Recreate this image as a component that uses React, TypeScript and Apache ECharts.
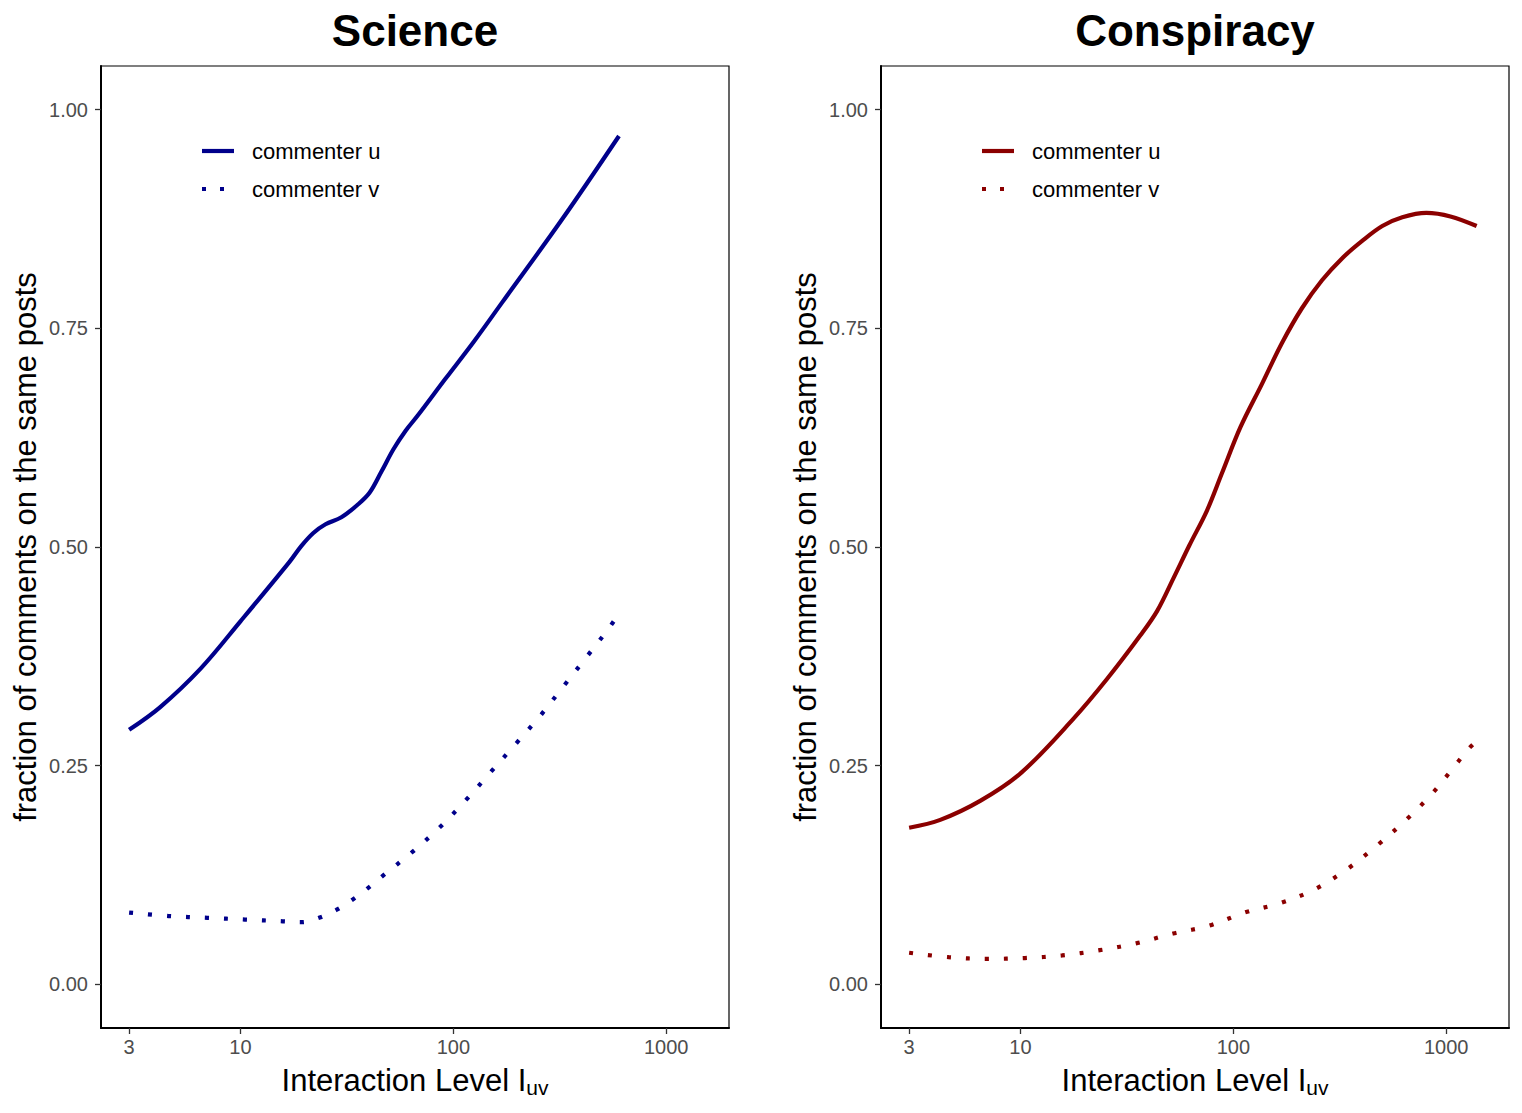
import React, { useEffect, useRef } from "react";
import * as echarts from "echarts";

// ---- Data (Interaction level I_uv, fraction of comments) ----
const xTickValues = [3, 10, 100, 1000];
const yTickValues = [0, 0.25, 0.5, 0.75, 1.0];

const scienceU_x = [3, 4.2, 6.5, 10, 17, 19.3, 22, 25.1, 29.8, 35.4, 40.4, 45.9, 52.4, 59.7, 67.9, 91.6, 125, 170, 325, 600];
const scienceU_y = [0.291, 0.317, 0.361, 0.415, 0.483, 0.501, 0.516, 0.526, 0.534, 0.548, 0.562, 0.586, 0.612, 0.633, 0.65, 0.692, 0.735, 0.78, 0.875, 0.97];

const scienceV_x = [3, 4.6, 7, 10.5, 15.8, 19.3, 23.4, 28.2, 33.7, 39.7, 46.6, 64, 86, 114, 149, 195, 256, 330, 425, 541, 600];
const scienceV_y = [0.082, 0.078, 0.076, 0.074, 0.072, 0.071, 0.076, 0.085, 0.097, 0.11, 0.124, 0.151, 0.179, 0.21, 0.242, 0.274, 0.307, 0.341, 0.375, 0.408, 0.424];

const conspU_x = [3, 4.2, 6.5, 10.1, 17.8, 25.5, 36.6, 43.9, 52.5, 62.2, 75.3, 88.3, 108, 136, 169, 210, 261, 324, 403, 501, 622, 807, 1047, 1390];
const conspU_y = [0.179, 0.188, 0.21, 0.242, 0.304, 0.349, 0.399, 0.427, 0.465, 0.502, 0.542, 0.584, 0.637, 0.686, 0.733, 0.773, 0.805, 0.83, 0.85, 0.867, 0.877, 0.882, 0.878, 0.867];

const conspV_x = [3, 4.6, 7, 10.5, 15.7, 23.6, 35.2, 52.1, 77.1, 113, 167, 243, 344, 475, 641, 851, 1109, 1259, 1390];
const conspV_y = [0.036, 0.031, 0.029, 0.03, 0.033, 0.039, 0.047, 0.058, 0.067, 0.082, 0.093, 0.109, 0.132, 0.159, 0.187, 0.217, 0.251, 0.268, 0.278];

const panelTitles = ["Science", "Conspiracy"];
const seriesNames = ["commenter u", "commenter v"];
const panelColors = ["#00008B", "#8B0000"];

const FONT = "'Liberation Sans', Arial, Helvetica, sans-serif";
const X_MIN = 0.345;
const X_MAX = 3.295;

const toPairs = (xs: number[], ys: number[]) => xs.map((x, i) => [Math.log10(x), ys[i]]);

export default function App() {
  const ref = useRef<HTMLDivElement>(null);

  useEffect(() => {
    if (!ref.current) return;
    const chart = echarts.init(ref.current, undefined, { renderer: "svg" });

    const grids = [
      { left: 101, top: 66, width: 628, height: 962 },
      { left: 881, top: 66, width: 628, height: 962 },
    ];

    const xTickLogs = xTickValues.map((v) => Math.log10(v));

    const xAxes = grids.map((_, i) => ({
      type: "value",
      gridIndex: i,
      min: X_MIN,
      max: X_MAX,
      splitLine: { show: false },
      axisLine: { show: true, onZero: false, lineStyle: { color: "#000", width: 2 } },
      axisTick: { show: true, customValues: xTickLogs, length: 6, lineStyle: { color: "#333", width: 1.3 } },
      axisLabel: {
        customValues: xTickLogs,
        formatter: (v: number) => String(Math.round(Math.pow(10, v))),
        color: "#4d4d4d",
        fontSize: 20,
        fontFamily: FONT,
        margin: 9,
      },
      name: "Interaction Level I{sub|uv}",
      nameLocation: "middle",
      nameGap: 35,
      nameTextStyle: {
        color: "#000",
        fontSize: 31,
        fontFamily: FONT,
        rich: {
          sub: { fontSize: 21, fontFamily: FONT, color: "#000", padding: [14, 0, 0, 0] },
        },
      },
    }));

    const yAxes = grids.map((_, i) => ({
      type: "value",
      gridIndex: i,
      min: -0.05,
      max: 1.05,
      splitLine: { show: false },
      axisLine: { show: true, onZero: false, lineStyle: { color: "#000", width: 2 } },
      axisTick: { show: true, customValues: yTickValues, length: 6, lineStyle: { color: "#333", width: 1.3 } },
      axisLabel: {
        customValues: yTickValues,
        formatter: (v: number) => v.toFixed(2),
        color: "#4d4d4d",
        fontSize: 20,
        fontFamily: FONT,
        margin: 13,
      },
      name: "fraction of comments on the same posts",
      nameLocation: "middle",
      nameGap: 60,
      nameTextStyle: { color: "#000", fontSize: 31, fontFamily: FONT },
    }));

    const panelData = [
      [toPairs(scienceU_x, scienceU_y), toPairs(scienceV_x, scienceV_y)],
      [toPairs(conspU_x, conspU_y), toPairs(conspV_x, conspV_y)],
    ];

    const series: any[] = [];
    panelData.forEach((pair, p) => {
      pair.forEach((data, k) => {
        series.push({
          type: "line",
          name: seriesNames[k],
          xAxisIndex: p,
          yAxisIndex: p,
          data,
          showSymbol: false,
          symbol: "none",
          smooth: 0.35,
          lineStyle: {
            color: panelColors[p],
            width: 4.2,
            type: k === 0 ? "solid" : [4, 15],
            cap: "butt",
          },
        });
      });
    });

    const graphic: any[] = [];
    grids.forEach((g, p) => {
      const cx = g.left + g.width / 2;
      graphic.push({
        type: "text",
        x: cx,
        y: 30,
        style: {
          text: panelTitles[p],
          fontSize: 44,
          fontWeight: "bold",
          fontFamily: FONT,
          fill: "#000",
          textAlign: "center",
          textVerticalAlign: "middle",
        },
      });
      const lx = g.left + 101;
      const rows = [151, 189];
      rows.forEach((ry, k) => {
        graphic.push({
          type: "line",
          shape: { x1: lx, y1: ry, x2: lx + 32, y2: ry },
          style: {
            stroke: panelColors[p],
            lineWidth: 4.2,
            lineDash: k === 0 ? null : [4, 14],
            lineCap: "butt",
          },
        });
        graphic.push({
          type: "text",
          x: lx + 50,
          y: ry,
          style: {
            text: seriesNames[k],
            fontSize: 22,
            fontFamily: FONT,
            fill: "#000",
            textAlign: "left",
            textVerticalAlign: "middle",
          },
        });
      });
    });

    chart.setOption({
      animation: false,
      backgroundColor: "#fff",
      grid: grids.map((g) => ({ ...g, show: true, borderColor: "#000", borderWidth: 1.2, backgroundColor: "transparent" })),
      xAxis: xAxes,
      yAxis: yAxes,
      series,
      graphic,
    });

    return () => chart.dispose();
  }, []);

  return (
    <div
      ref={ref}
      style={{ position: "absolute", left: 0, top: 0, width: 1522, height: 1113, background: "#fff" }}
    />
  );
}
